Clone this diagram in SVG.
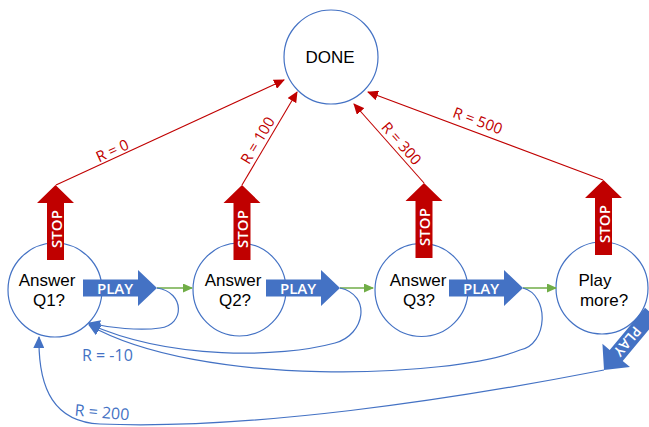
<svg xmlns="http://www.w3.org/2000/svg" width="649" height="427" viewBox="0 0 649 427">
<style>
.node{fill:#fff;stroke:#4472C4;stroke-width:1.2}
.nt{font-family:"Liberation Sans",Arial,sans-serif;font-size:17px;fill:#000;text-anchor:middle}
.red{fill:none;stroke:#C00000;stroke-width:1.1;marker-end:url(#mr)}
.blue{fill:none;stroke:#4472C4;stroke-width:1.2;marker-end:url(#mb)}
.green{fill:none;stroke:#70AD47;stroke-width:1.6;marker-end:url(#mg)}
.rl{font-family:"Open Sans","Liberation Sans",sans-serif;font-size:15px;fill:#C00000;text-anchor:middle;dominant-baseline:central}
.bl{font-family:"Open Sans","Liberation Sans",sans-serif;font-size:16px;fill:#4472C4}
.stop{fill:#C00000}
.play{fill:#4472C4}
.at{font-family:"Open Sans","Liberation Sans",sans-serif;font-size:15px;font-weight:600;fill:#fff;text-anchor:middle;dominant-baseline:central}
</style>
<defs>
<marker id="mr" markerWidth="11" markerHeight="10" refX="10" refY="5" orient="auto" markerUnits="userSpaceOnUse"><path d="M0,0 L11,5 L0,10 Z" fill="#C00000"/></marker>
<marker id="mb" markerWidth="12" markerHeight="11" refX="11" refY="5.5" orient="auto" markerUnits="userSpaceOnUse"><path d="M0,0 L12,5.5 L0,11 Z" fill="#4472C4"/></marker>
<marker id="mg" markerWidth="10" markerHeight="9" refX="9" refY="4.5" orient="auto" markerUnits="userSpaceOnUse"><path d="M0,0 L10,4.5 L0,9 Z" fill="#70AD47"/></marker>
<path id="stopShape" d="M0,0 L18.5,18 L8.5,18 L8.5,75 L-8.5,75 L-8.5,18 L-18.5,18 Z"/>
<path id="playShape" d="M0,0 L-19,18 L-19,8.5 L-74,8.5 L-74,-8.5 L-19,-8.5 L-19,-18 Z"/>
</defs>

<g id="node-done">
<circle class="node" cx="331" cy="57" r="47"/>
<text class="nt" x="330" y="63">DONE</text>
</g>
<g id="node-q1">
<circle class="node" cx="55" cy="290" r="47"/>
<text class="nt" x="47" y="286">Answer</text>
<text class="nt" x="49" y="305.5">Q1?</text>
</g>
<g id="node-q2">
<circle class="node" cx="239.5" cy="289.5" r="46.5"/>
<text class="nt" x="233" y="286">Answer</text>
<text class="nt" x="235" y="305.5">Q2?</text>
</g>
<g id="node-q3">
<circle class="node" cx="421.5" cy="290" r="46.5"/>
<text class="nt" x="418" y="286">Answer</text>
<text class="nt" x="419" y="305.5">Q3?</text>
</g>
<g id="node-more">
<circle class="node" cx="602" cy="288" r="46"/>
<text class="nt" x="595" y="286">Play</text>
<text class="nt" x="604" y="305.5">more?</text>
</g>

<g id="block-arrows">
<g id="stop-q1" transform="translate(55.5,185)"><use href="#stopShape" class="stop"/><text class="at" transform="translate(0,44) rotate(-90)">STOP</text></g>
<g id="stop-q2" transform="translate(242,185)"><use href="#stopShape" class="stop"/><text class="at" transform="translate(0,44) rotate(-90)">STOP</text></g>
<g id="stop-q3" transform="translate(424,183)"><use href="#stopShape" class="stop"/><text class="at" transform="translate(0,44) rotate(-90)">STOP</text></g>
<g id="stop-more" transform="translate(603.5,180)"><use href="#stopShape" class="stop"/><text class="at" transform="translate(0,44) rotate(-90)">STOP</text></g>
<g id="play-q1" transform="translate(157,288)"><use href="#playShape" class="play"/><text class="at" x="-42" y="0">PLAY</text></g>
<g id="play-q2" transform="translate(340,288)"><use href="#playShape" class="play"/><text class="at" x="-42" y="0">PLAY</text></g>
<g id="play-q3" transform="translate(523,288)"><use href="#playShape" class="play"/><text class="at" x="-42" y="0">PLAY</text></g>
<g id="play-more" transform="translate(604,370) rotate(130)"><use href="#playShape" class="play"/><text class="at" x="-37" y="0" style="font-size:14px">PLAY</text></g>
</g>

<g id="connectors">
<path class="red" d="M56,185 L284,80"/>
<path class="red" d="M242,185 L297,92"/>
<path class="red" d="M424,183 L354,104"/>
<path class="red" d="M603,180 L368,92"/>
<text class="rl" transform="translate(112,150) rotate(-24.6)">R = 0</text>
<text class="rl" transform="translate(257,140) rotate(-59.3)">R = 100</text>
<text class="rl" transform="translate(402,143) rotate(48.5)">R = 300</text>
<text class="rl" transform="translate(478,120) rotate(20.5)">R = 500</text>

<path class="green" d="M157,288 L192,288"/>
<path class="green" d="M340,288 L373,288"/>
<path class="green" d="M523,288 L556,288"/>

<path class="blue" d="M157,288 C185,292 185,325 160,328 C140,331 110,328 89,323"/>
<path class="blue" d="M340,288 C372,295 365,335 335,343 C280,358 170,360 89,324"/>
<path class="blue" d="M523,288 C550,295 548,345 520,350 C450,378 200,388 89,325"/>
<path class="blue" d="M604,370 C450,400 250,430 100,424 C55,422 38,390 39,337"/>
<text class="bl" x="82" y="361">R = -10</text>
<text class="bl" transform="translate(102,412) rotate(5)" text-anchor="middle" dominant-baseline="central">R = 200</text>
</g>
</svg>
